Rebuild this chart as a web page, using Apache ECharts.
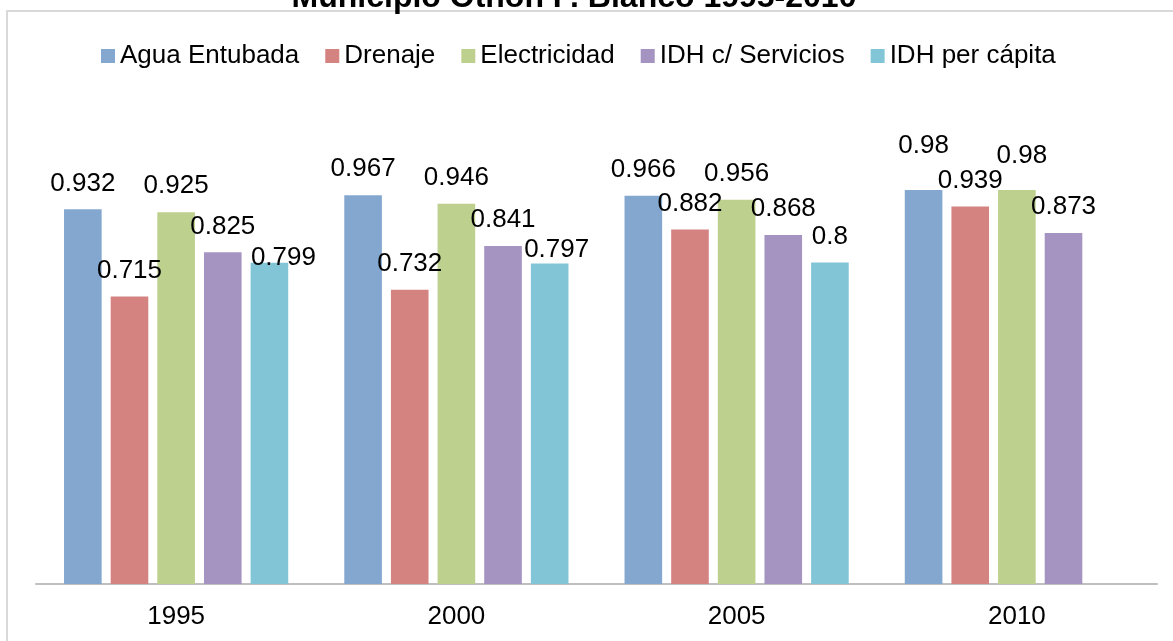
<!DOCTYPE html>
<html>
<head>
<meta charset="utf-8">
<script src="https://cdn.jsdelivr.net/npm/echarts@6/dist/echarts.min.js"></script>
<style>
html,body{margin:0;padding:0;background:#fff;}
#c{width:1173px;height:641px;}
</style>
</head>
<body>
<div id="c"></div>
<script>
var titleText = 'Municipio Othón P. Blanco 1995-2010';
var categories = ['1995', '2000', '2005', '2010'];
var seriesNames = ['Agua Entubada', 'Drenaje', 'Electricidad', 'IDH c/ Servicios', 'IDH per cápita'];
var aguaEntubada = [0.932, 0.967, 0.966, 0.98];
var drenaje = [0.715, 0.732, 0.882, 0.939];
var electricidad = [0.925, 0.946, 0.956, 0.98];
var idhServicios = [0.825, 0.841, 0.868, 0.873];
var idhPerCapita = [0.799, 0.797, 0.8, null];

var seriesValues = [aguaEntubada, drenaje, electricidad, idhServicios, idhPerCapita];
var colors = ['#84A7D0', '#D58381', '#BDD08D', '#A593C2', '#82C5D7'];
// label nudges (series index -> category index -> [dx, dy]) to mimic the original label placement
var labelNudges = {
  0: {3: [0, -18]},
  2: {3: [5, -8]},
  4: {0: [14, 21], 1: [7, 12]}
};
var FONT = "'Liberation Sans', Arial, sans-serif";

var chart = echarts.init(document.getElementById('c'), null, {renderer: 'canvas'});

var series = seriesValues.map(function (vals, si) {
  return {
    name: seriesNames[si],
    type: 'bar',
    barGap: '24%',
    barCategoryGap: '20%',
    itemStyle: {color: colors[si]},
    label: {
      show: true,
      position: 'top',
      distance: 13,
      color: '#000',
      fontSize: 26,
      fontFamily: FONT
    },
    data: vals.map(function (v, ci) {
      var nud = labelNudges[si] && labelNudges[si][ci];
      if (v === null) return '-';
      if (nud) return {value: v, label: {offset: nud}};
      return v;
    })
  };
});

chart.setOption({
  animation: false,
  backgroundColor: '#fff',
  title: {
    text: titleText,
    left: 569,
    top: -23,
    textAlign: 'center',
    textStyle: {fontSize: 32, fontWeight: 'bold', color: '#000', fontFamily: FONT}
  },
  legend: {
    data: seriesNames,
    left: 96,
    top: 38,
    icon: 'rect',
    itemWidth: 14,
    itemHeight: 14,
    itemGap: 26,
    textStyle: {fontSize: 26, color: '#000', fontFamily: FONT}
  },
  grid: {left: 36, right: 16, top: 101.6, bottom: 57, containLabel: false},
  xAxis: {
    type: 'category',
    data: categories,
    axisLine: {show: true, lineStyle: {color: '#BFBFBF', width: 2}},
    axisTick: {show: false},
    axisLabel: {color: '#000', fontSize: 26, fontFamily: FONT, margin: 20}
  },
  yAxis: {
    type: 'value',
    min: 0,
    max: 1.2,
    interval: 0.2,
    show: false,
    splitLine: {show: false}
  },
  graphic: [{
    type: 'rect',
    silent: true,
    shape: {x: 7, y: 11, width: 1300, height: 800},
    style: {fill: 'none', stroke: '#D9D9D9', lineWidth: 2}
  }],
  series: series
});
</script>
</body>
</html>
